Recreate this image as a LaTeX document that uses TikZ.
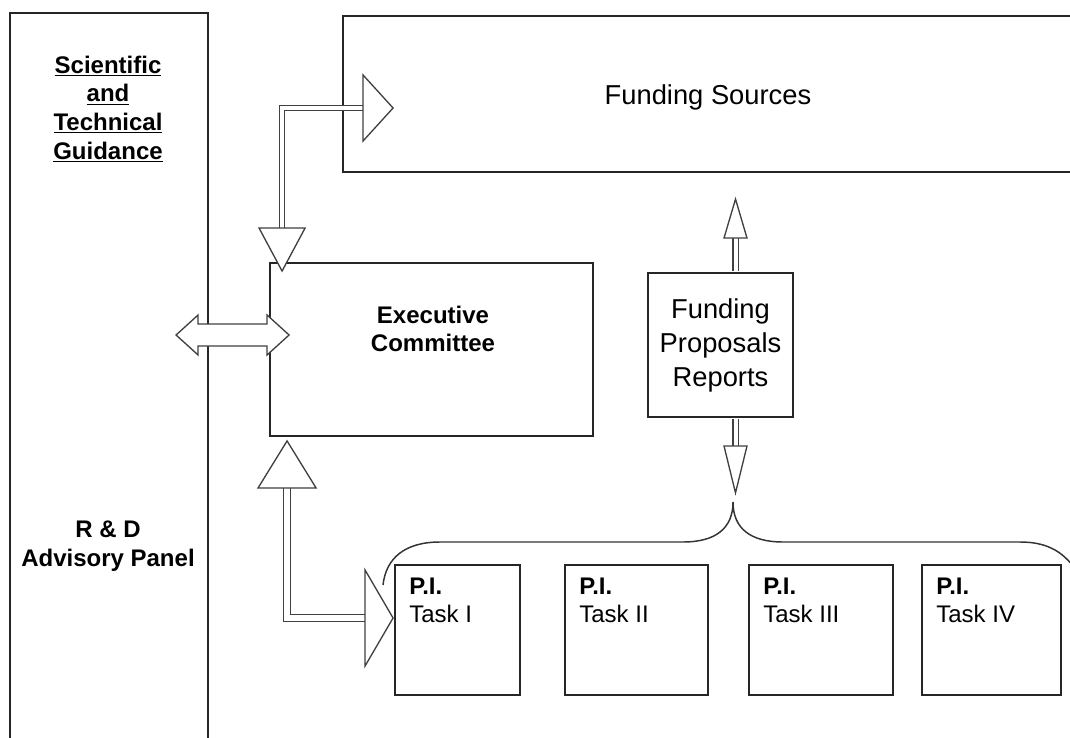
\documentclass[tikz,border=0pt]{standalone}
\usepackage{fontspec}
\setmainfont{Liberation Sans}
\usetikzlibrary{calc}
\tikzset{
    panel/.style={rectangle, draw=black!85, line width=1.4pt, inner sep=0pt},
    task/.style={panel, minimum height=97.5pt},
    shaft/.style={draw=black!75, line width=1pt, double=white, double distance=3pt, line join=miter},
    head/.style={draw=black!75, fill=white, line width=1pt, line join=miter},
    brace/.style={draw=black!80, line width=1.1pt},
    bold/.style={font=\fontsize{18}{21.5}\selectfont\bfseries, align=center},
    plain/.style={font=\fontsize{20.5}{25.5}\selectfont, align=center},
    pitext/.style={font=\fontsize{18}{21}\selectfont, align=left, inner sep=0pt}
}
\begin{document}
\begin{tikzpicture}[x=0.75pt, y=-0.75pt]
        \useasboundingbox (0,0) rectangle (1070,738);

        % Boxes
        \node (advisory) [panel, minimum width=148.5pt, minimum height=552.75pt] at (109,381.5) {};
        \node (funds) [panel, minimum width=547.5pt, minimum height=117pt] at (708,94) {};
        \node (exec) [panel, minimum width=242.25pt, minimum height=129.75pt] at (431.5,349.5) {};
        \node (propbox) [panel, plain, minimum width=108.75pt, minimum height=108pt] at (720.5,345) {Funding\\Proposals\\Reports};

        \node (task1) [task, minimum width=93.75pt] at (457.5,630) {};
        \node (task2) [task, minimum width=107.25pt] at (636.5,630) {};
        \node (task3) [task, minimum width=108pt] at (821,630) {};
        \node (task4) [task, minimum width=104.25pt] at (991.5,630) {};

        % Labels
        \node (fundstext) [plain] at (708,97) {Funding Sources};
        \node (guide) [bold] at (108,109) {\underline{Scientific}\\\underline{and}\\\underline{Technical}\\\underline{Guidance}};
        \node (rdlabel) [bold] at (108,546) {R \& D\\Advisory Panel};
        \node (exectext) [bold] at (433,329) {Executive\\Committee};
        \foreach \n/\t in {1/I,2/II,3/III,4/IV}
            \node (pi\n) [pitext, anchor=north west] at ($(task\n.north west)+(15,14)$) {\textbf{P.I.}\\Task \t};

        % Brace over the tasks
        \draw[brace] (383,585) .. controls (386,558) and (405,542) .. (440,542) -- (683,542)
            .. controls (716,542) and (733,528) .. (733,502)
            .. controls (733,528) and (750,542) .. (783,542) -- (1020,542)
            .. controls (1045,542) and (1062,550) .. (1076,570);

        % Arrows
        \coordinate (fundtip) at ($(funds.west)+(51,14)$);
        \coordinate (exectop) at ($(exec.north west)+(13,9)$);
        \draw[shaft] ($(exectop)+(0,-41)$) |- ($(fundtip)+(-28,0)$);
        \draw[head] (fundtip) -- ++(-30,-33) -- ++(0,66) -- cycle;
        \draw[head] (exectop) -- ++(-23,-43) -- ++(46,0) -- cycle;

        \coordinate (execleft) at ($(exec.west)+(20,-14.5)$);
        \draw[head] (execleft) -- ++(-22,-20) -- ++(0,9) -- ++(-69,0) -- ++(0,-9) -- ++(-22,20)
            -- ++(22,20) -- ++(0,-9) -- ++(69,0) -- ++(0,9) -- cycle;

        \coordinate (execbot) at ($(exec.south west)+(18,4)$);
        \coordinate (tasktip) at ($(task1.west)+(-1,-12)$);
        \draw[shaft, double distance=4.5pt] ($(execbot)+(0,45)$) |- ($(tasktip)+(-26,0)$);
        \draw[head] (execbot) -- ++(-29,47) -- ++(58,0) -- cycle;
        \draw[head] (tasktip) -- ++(-28,-48) -- ++(0,96) -- cycle;

        \coordinate (propup) at ($(propbox.north)+(15,-73)$);
        \coordinate (propdown) at ($(propbox.south)+(15,75)$);
        \draw[shaft] ($(propbox.north)+(15,-1)$) -- ($(propup)+(0,37)$);
        \draw[head] (propup) -- ++(-11.5,39) -- ++(23,0) -- cycle;
        \draw[shaft] ($(propbox.south)+(15,1)$) -- ($(propdown)+(0,-45)$);
        \draw[head] (propdown) -- ++(-11.5,-47) -- ++(23,0) -- cycle;

    \end{tikzpicture}
\end{document}
